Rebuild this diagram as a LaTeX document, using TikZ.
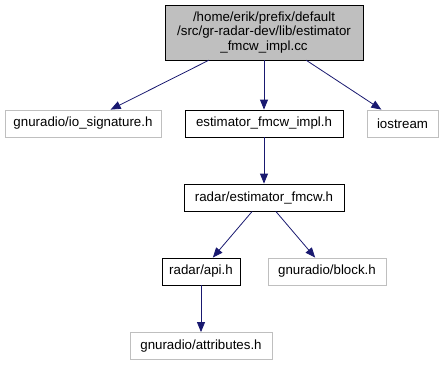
\documentclass[tikz,border=0pt]{standalone}
\usepackage{fontspec}
\setmainfont{Liberation Sans}
\usetikzlibrary{arrows.meta}
\definecolor{edgeblue}{HTML}{191970}
\definecolor{grey75}{HTML}{BFBFBF}
\begin{document}
\begin{tikzpicture}[
	x=1pt, y=-1pt,
	every node/.style = {font=\fontsize{13.3}{14.5}\selectfont, inner sep=0pt},
	root/.style = {rectangle, draw=black, fill=grey75, align=center},
	doc/.style = {rectangle, draw=black, thick, minimum height=27},
	ext/.style = {rectangle, draw=grey75, thick, minimum height=27},
	e/.style = {-{Triangle[length=10pt, width=8pt]}, edgeblue, thick}
	]
	\useasboundingbox (0, 0) rectangle (445, 365);
	
	% === === === Nodes === === ===
	\node[root, minimum width=198, minimum height=55]	(cc)	at	(264, 32.5)	{/home/erik/prefix/default\\/src/gr-radar-dev/lib/estimator\\\_fmcw\_impl.cc};
	
	\node[ext, minimum width=156]	(iosig)	at	(83, 123.5)	{gnuradio/io\_signature.h};
	\node[doc, minimum width=158]	(impl)	at	(264, 123.5)	{estimator\_fmcw\_impl.h};
	\node[ext, minimum width=71]	(iostream)	at	(402.5, 123.5)	{iostream};
	
	\node[doc, minimum width=160]	(est)	at	(264, 197.5)	{radar/estimator\_fmcw.h};
	
	\node[doc, minimum width=78]	(api)	at	(201, 271.5)	{radar/api.h};
	\node[ext, minimum width=118]	(block)	at	(327, 271.5)	{gnuradio/block.h};
	
	\node[ext, minimum width=142]	(attr)	at	(201, 346)	{gnuradio/attributes.h};
	
	% === === === Edges === === ===
	\draw[e] (cc) -- (iosig);
	\draw[e] (cc) -- (impl);
	\draw[e] (cc) -- (iostream);
	
	\draw[e] (impl) -- (est);
	
	\draw[e] (est) -- (api);
	\draw[e] (est) -- (block);
	
	\draw[e] (api) -- (attr);
	
\end{tikzpicture}
\end{document}
